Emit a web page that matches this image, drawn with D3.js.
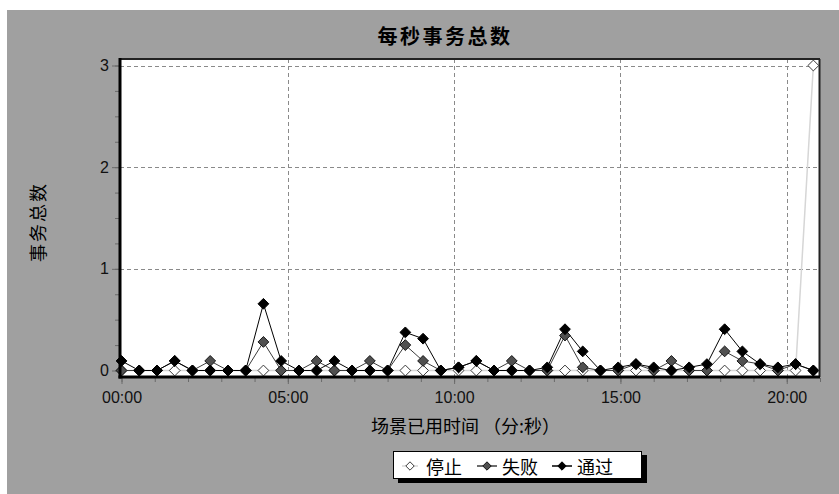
<!DOCTYPE html>
<html>
<head>
<meta charset="utf-8">
<script src="https://cdn.jsdelivr.net/npm/d3@7"></script>
<style>
  html, body { margin: 0; padding: 0; background: #fff; }
  svg { display: block; }
</style>
</head>
<body>
<svg id="chart" width="839" height="494"></svg>
<script>
// ---- data ----
const title = "每秒事务总数";
const xTitle = "场景已用时间 （分:秒）";
const yTitle = "事务总数";
const seriesNames = ["停止", "失败", "通过"];
// elapsed time of each sample, seconds
const times = [0, 32, 64, 96, 128, 160, 192, 224, 256, 288,
               320, 352, 384, 416, 448, 480, 512, 544, 576, 608,
               640, 672, 704, 736, 768, 800, 832, 864, 896, 928,
               960, 992, 1024, 1056, 1088, 1120, 1152, 1184, 1216, 1248];
const stopValues = [0, 0, 0, 0, 0, 0, 0, 0, 0, 0,
                    0, 0, 0, 0, 0, 0, 0, 0, 0, 0,
                    0, 0, 0, 0, 0, 0, 0, 0, 0, 0,
                    0, 0, 0, 0, 0, 0, 0, 0, 0, 3];
const failValues = [0, 0, 0, 0.094, 0, 0.094, 0, 0, 0.281, 0,
                    0, 0.094, 0, 0, 0.094, 0, 0.25, 0.094, 0, 0.031,
                    0.094, 0, 0.094, 0, 0, 0.344, 0.031, 0, 0, 0.063,
                    0, 0.094, 0, 0, 0.188, 0.094, 0.063, 0, 0.063, 0];
const passValues = [0.094, 0, 0, 0.094, 0, 0, 0, 0, 0.656, 0.094,
                    0, 0, 0.094, 0, 0, 0, 0.375, 0.313, 0, 0.031,
                    0.094, 0, 0, 0, 0.031, 0.406, 0.188, 0, 0.031, 0.063,
                    0.031, 0, 0.031, 0.063, 0.406, 0.188, 0.063, 0.031, 0.063, 0];
const xTickValues = [0, 300, 600, 900, 1200];
const xTickLabels = ["00:00", "05:00", "10:00", "15:00", "20:00"];
const yTickValues = [0, 1, 2, 3];

// ---- drawing ----
const svg = d3.select("#chart");
const W = 839, H = 494;
const plot = {left: 120, right: 820, top: 59, bottom: 377};

svg.append("rect").attr("x", 7).attr("y", 10).attr("width", W - 7).attr("height", H - 10).attr("fill", "#a0a0a0");
svg.append("rect").attr("x", plot.left).attr("y", plot.top)
   .attr("width", plot.right - plot.left).attr("height", plot.bottom - plot.top).attr("fill", "#fff");

const x = d3.scaleLinear().domain([0, 1260]).range([121.5, plot.right]);
const y = d3.scaleLinear().domain([0, 3]).range([370.5, 65.5]);

// grid
const grid = svg.append("g").attr("stroke", "#8a8a8a").attr("stroke-width", 1).attr("stroke-dasharray", "4,3");
grid.selectAll("line.h").data(yTickValues.filter(d => d > 0)).join("line")
  .attr("x1", plot.left).attr("x2", plot.right)
  .attr("y1", d => Math.round(y(d)) + 0.5).attr("y2", d => Math.round(y(d)) + 0.5);
grid.selectAll("line.v").data(xTickValues.filter(d => d > 0)).join("line")
  .attr("y1", plot.top).attr("y2", plot.bottom)
  .attr("x1", d => Math.round(x(d)) + 0.5).attr("x2", d => Math.round(x(d)) + 0.5);

// axes
const font = "'Liberation Sans', Arial, sans-serif";
const yMinor = d3.range(0, 3.01, 0.25);
const xMinor = d3.range(0, 1261, 60);

const yAxisMinor = svg.append("g").attr("transform", `translate(${plot.left - 1},0)`)
  .call(d3.axisLeft(y).tickValues(yMinor).tickSize(4).tickFormat(""));
const yAxis = svg.append("g").attr("transform", `translate(${plot.left - 1},0)`)
  .call(d3.axisLeft(y).tickValues(yTickValues).tickSize(7).tickPadding(3).tickFormat(d3.format("d")));
const xAxisMinor = svg.append("g").attr("transform", `translate(0,${plot.bottom + 1})`)
  .call(d3.axisBottom(x).tickValues(xMinor).tickSize(4).tickFormat(""));
const xAxis = svg.append("g").attr("transform", `translate(0,${plot.bottom + 1})`)
  .call(d3.axisBottom(x).tickValues(xTickValues).tickSize(6).tickPadding(8)
        .tickFormat((d, i) => xTickLabels[i]));
[yAxisMinor, yAxis, xAxisMinor, xAxis].forEach(g => {
  g.select(".domain").remove();
  g.selectAll(".tick line").attr("stroke", "#6a6a6a");
  g.selectAll(".tick text").attr("fill", "#111").style("font-family", font).style("font-size", "16px");
});

// series
const diamond = r => `M0,${-r}L${r},0L0,${r}L${-r},0Z`;
const series = [
  {name: seriesNames[0], values: stopValues, line: "#d6d6d6", lw: 1.5, fill: "#ffffff", stroke: "#3a3a3a"},
  {name: seriesNames[1], values: failValues, line: "#3c3c3c", lw: 1, fill: "#505050", stroke: "#151515"},
  {name: seriesNames[2], values: passValues, line: "#000000", lw: 1, fill: "#000000", stroke: "#000000"}
];
const lineGen = d3.line().x(d => x(d.t)).y(d => y(d.v));
series.forEach(s => {
  const pts = times.map((t, i) => ({t, v: s.values[i]}));
  svg.append("path").datum(pts).attr("d", lineGen).attr("fill", "none")
     .attr("stroke", s.line).attr("stroke-width", s.lw);
});
series.forEach(s => {
  const pts = times.map((t, i) => ({t, v: s.values[i]}));
  svg.append("g").selectAll("path").data(pts).join("path")
     .attr("transform", d => `translate(${x(d.t)},${y(d.v)})`)
     .attr("d", diamond(5.4)).attr("fill", s.fill).attr("stroke", s.stroke).attr("stroke-width", 1)
     .attr("stroke-linejoin", "round");
});

// frame
svg.append("line").attr("x1", plot.left).attr("x2", plot.right).attr("y1", plot.top).attr("y2", plot.top)
   .attr("stroke", "#222").attr("stroke-width", 2);
svg.append("line").attr("x1", plot.right - 0.5).attr("x2", plot.right - 0.5).attr("y1", plot.top).attr("y2", plot.bottom)
   .attr("stroke", "#222").attr("stroke-width", 2);
svg.append("line").attr("x1", plot.left).attr("x2", plot.left).attr("y1", plot.top - 1).attr("y2", plot.bottom + 1.5)
   .attr("stroke", "#000").attr("stroke-width", 3);
svg.append("line").attr("x1", plot.left - 1.5).attr("x2", plot.right).attr("y1", plot.bottom).attr("y2", plot.bottom)
   .attr("stroke", "#000").attr("stroke-width", 3);

// titles
const cjk = "'Noto Sans CJK SC', sans-serif";
svg.append("text").attr("x", 445).attr("y", 35).attr("text-anchor", "middle").attr("dominant-baseline", "central")
   .style("font-family", cjk).style("font-size", "20px").style("font-weight", "bold").style("letter-spacing", "2.5px")
   .attr("fill", "#000").text(title);
svg.append("text").attr("x", 371).attr("y", 425).attr("dominant-baseline", "central")
   .style("font-family", cjk).style("font-size", "18px").attr("fill", "#000").text(xTitle);
svg.append("text").attr("transform", "translate(37,222) rotate(-90)").attr("text-anchor", "middle")
   .attr("dominant-baseline", "central")
   .style("font-family", cjk).style("font-size", "18px").style("letter-spacing", "2px")
   .attr("fill", "#000").text(yTitle);

// legend
const lg = svg.append("g");
lg.append("rect").attr("x", 398).attr("y", 455).attr("width", 249).attr("height", 28).attr("fill", "#000");
lg.append("rect").attr("x", 393.5).attr("y", 451.5).attr("width", 248).attr("height", 27)
  .attr("fill", "#fff").attr("stroke", "#000").attr("stroke-width", 1);
const legendItems = [
  {s: series[0], cx: 410, lx0: 402, lx1: 418, tx: 426},
  {s: series[1], cx: 487, lx0: 477, lx1: 497, tx: 502},
  {s: series[2], cx: 562, lx0: 552, lx1: 572, tx: 577}
];
legendItems.forEach(it => {
  lg.append("line").attr("x1", it.lx0).attr("x2", it.lx1).attr("y1", 466).attr("y2", 466)
    .attr("stroke", it.s.line).attr("stroke-width", 1.5);
  lg.append("path").attr("transform", `translate(${it.cx},466)`).attr("d", diamond(4.2))
    .attr("fill", it.s.fill).attr("stroke", it.s.stroke).attr("stroke-width", 1);
  lg.append("text").attr("x", it.tx).attr("y", 466).attr("dominant-baseline", "central")
    .style("font-family", cjk).style("font-size", "18px").attr("fill", "#000").text(it.s.name);
});
</script>
</body>
</html>
